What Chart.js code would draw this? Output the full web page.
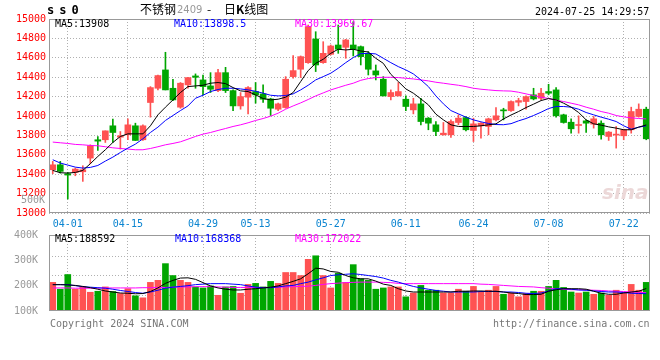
<!DOCTYPE html>
<html>
<head>
<meta charset="utf-8">
<script src="https://cdn.jsdelivr.net/npm/chart.js@4"></script>
<style>
  body { margin: 0; background: #fff; }
  #wrap { position: relative; width: 660px; height: 360px; overflow: hidden; }
  canvas { position: absolute; left: 0; }
  .t { position: absolute; white-space: nowrap; font-family: 'DejaVu Sans Mono', monospace; font-size: 10px; line-height: 12px; }
  .cjk { font-family: 'Noto Sans CJK SC', sans-serif; font-size: 12px; line-height: 16px; }
</style>
</head>
<body>
<div id="wrap">
  <canvas id="kline" width="660" height="232" style="top:0"></canvas>
  <canvas id="vol" width="660" height="114" style="top:226px"></canvas>

  <div class="t" style="left:47px;top:4px;font-size:12px;font-weight:bold;letter-spacing:5px">ss0</div>
  <div class="t cjk" style="left:140px;top:1px">不锈钢</div>
  <div class="t" style="left:177px;top:4px;color:#999;font-family:'DejaVu Sans',sans-serif">2409</div>
  <div class="t cjk" style="left:207px;top:1px">-</div>
  <div class="t cjk" style="left:224px;top:1px">日<b>K</b>线图</div>
  <div class="t" style="left:535px;top:6px">2024-07-25 14:29:57</div>

  <div class="t" style="left:55px;top:18px;color:#000">MA5:13908</div>
  <div class="t" style="left:174px;top:18px;color:#0000ff">MA10:13898.5</div>
  <div class="t" style="left:295px;top:18px;color:#ff00ff">MA30:13969.67</div>

  <div class="t" style="left:21px;top:194px;color:#999">500K</div>

  <div class="t" style="left:55px;top:233px;color:#000">MA5:188592</div>
  <div class="t" style="left:175px;top:233px;color:#0000ff">MA10:168368</div>
  <div class="t" style="left:295px;top:233px;color:#ff00ff">MA30:172022</div>

  <div class="t" style="left:50px;top:318px;color:#777">Copyright 2024 SINA.COM</div>
  <div class="t" style="left:493px;top:318px;color:#777">http://finance.sina.com.cn</div>
  <div class="t" style="left:602px;top:186px;font-family:'DejaVu Sans',sans-serif;font-size:20px;font-style:italic;font-weight:bold;color:#ecd8d8">sina</div>
</div>

<script>
// trading days shown on the chart
var dates = ["03-28","03-29","04-01","04-02","04-03","04-08","04-09","04-10","04-11","04-12",
  "04-15","04-16","04-17","04-18","04-19","04-22","04-23","04-24","04-25","04-26",
  "04-29","04-30","05-06","05-07","05-08","05-09","05-10","05-13","05-14","05-15",
  "05-16","05-17","05-20","05-21","05-22","05-23","05-24","05-27","05-28","05-29",
  "05-30","05-31","06-03","06-04","06-05","06-06","06-07","06-11","06-12","06-13",
  "06-14","06-17","06-18","06-19","06-20","06-21","06-24","06-25","06-26","06-27",
  "06-28","07-01","07-02","07-03","07-04","07-05","07-08","07-09","07-10","07-11",
  "07-12","07-15","07-16","07-17","07-18","07-19","07-22","07-23","07-24","07-25"];
var axisDates = ["04-01","04-15","04-29","05-13","05-27","06-11","06-24","07-08","07-22"];

var openP = [13446,13497,13405,13418,13425,13566,13755,13755,13899,13782,
  13806,13899,13755,14139,14286,14475,14286,14091,14321,14413,
  14372,14310,14262,14447,14262,14104,14194,14252,14228,14176,
  14070,14087,14406,14482,14550,14794,14550,14636,14732,14708,
  14732,14715,14646,14465,14379,14200,14207,14173,14063,14125,
  13978,13909,13806,13806,13933,13984,13851,13899,13892,13960,
  14063,14056,14142,14149,14218,14183,14252,14269,14012,13936,
  13902,13950,13916,13926,13789,13803,13796,13858,13995,14070];
var closeP = [13497,13429,13391,13453,13446,13693,13741,13847,13830,13796,
  13909,13748,13899,14293,14417,14269,14166,14338,14396,14399,
  14303,14276,14447,14262,14104,14200,14293,14218,14173,14080,
  14125,14379,14468,14612,14921,14526,14646,14722,14688,14784,
  14688,14612,14482,14423,14207,14242,14252,14098,14125,13943,
  13926,13840,13823,13943,13978,13858,13919,13926,13971,14002,
  14053,14149,14159,14200,14176,14235,14235,14002,13933,13868,
  13909,13926,13971,13806,13834,13813,13858,14046,14070,13765];
var highP = [13532,13532,13418,13463,13487,13703,13789,13847,13967,13840,
  13971,13926,13909,14303,14423,14657,14379,14345,14399,14434,
  14423,14447,14482,14502,14269,14242,14303,14345,14321,14183,
  14132,14406,14622,14619,14938,14869,14766,14732,14938,14790,
  14972,14722,14664,14526,14406,14269,14345,14207,14183,14183,
  13984,13943,13933,13960,14012,13995,13978,13933,13978,14087,
  14080,14156,14183,14207,14286,14286,14327,14293,14019,13971,
  14002,13960,13995,13950,13840,13892,13864,14091,14125,14091];
var lowP = [13405,13412,13144,13384,13326,13508,13645,13727,13727,13659,
  13755,13748,13748,13988,14269,14269,14159,14080,14286,14286,
  14218,14242,14252,14242,14056,14070,14022,14132,14139,14005,
  14056,14080,14389,14396,14543,14458,14543,14629,14646,14595,
  14619,14526,14423,14372,14207,14166,14207,14056,14022,13909,
  13858,13796,13803,13779,13909,13847,13737,13772,13806,13950,
  13960,14046,14104,14070,14166,14166,14218,13988,13926,13823,
  13823,13830,13875,13761,13748,13669,13755,13823,13988,13755];

var ma5 = [13439,13415,13412,13418,13439,13508,13583,13652,13727,13789,
  13816,13816,13816,13899,14012,14091,14166,14242,14303,14310,
  14317,14338,14345,14334,14293,14259,14252,14218,14180,14166,
  14173,14194,14242,14355,14468,14543,14585,14646,14688,14681,
  14688,14670,14660,14595,14543,14430,14355,14279,14235,14176,
  14115,14019,13960,13909,13892,13892,13892,13899,13909,13919,
  13970,14010,14046,14087,14122,14159,14180,14166,14132,14091,
  14036,13960,13919,13906,13888,13875,13858,13858,13885,13908];
var ma10 = [13549,13515,13494,13473,13463,13470,13490,13535,13576,13624,
  13669,13710,13765,13830,13885,13954,14005,14056,14104,14183,
  14214,14252,14273,14286,14286,14279,14269,14255,14235,14214,
  14207,14211,14228,14269,14317,14372,14406,14441,14492,14550,
  14602,14643,14646,14640,14595,14550,14509,14475,14434,14372,
  14303,14207,14125,14056,14022,13988,13960,13940,13923,13912,
  13910,13921,13950,13974,14005,14039,14077,14098,14098,14091,
  14070,14036,14012,13988,13967,13943,13899,13864,13885,13899];
var ma30 = [13731,13724,13717,13707,13703,13696,13693,13683,13672,13665,
  13659,13652,13652,13665,13683,13703,13717,13734,13761,13789,
  13813,13830,13851,13871,13892,13909,13930,13954,13974,13998,
  14029,14070,14104,14135,14170,14207,14238,14269,14293,14317,
  14338,14368,14386,14396,14399,14399,14396,14389,14382,14372,
  14362,14348,14338,14327,14317,14303,14286,14276,14269,14262,
  14259,14257,14245,14228,14211,14194,14180,14163,14149,14132,
  14115,14091,14070,14046,14029,14005,13991,13981,13974,13970];

var volume = [213000,186000,244000,186000,196000,174000,178000,195000,177000,169000,
  188000,160000,152000,213000,221000,287000,240000,221000,213000,195000,
  191000,199000,162000,195000,197000,170000,205000,209000,195000,217000,
  209000,252000,252000,240000,304000,318000,240000,191000,249000,213000,
  283000,227000,221000,186000,191000,195000,195000,156000,171000,201000,
  182000,182000,171000,171000,186000,178000,197000,175000,182000,197000,
  166000,171000,156000,169000,178000,178000,197000,221000,193000,175000,
  171000,175000,166000,171000,162000,182000,171000,205000,182000,213000];
var volMa5 = [204000,204000,203000,201000,197000,192000,186000,179000,175000,171000,
  170000,168000,169000,177000,191000,209000,221000,230000,231000,225000,
  212000,199000,191000,186000,183000,183000,186000,188000,191000,194000,
  199000,208000,217000,227000,247000,269000,266000,256000,253000,240000,
  231000,227000,227000,218000,206000,201000,188000,179000,175000,175000,
  175000,175000,175000,175000,178000,178000,179000,179000,178000,178000,
  175000,171000,169000,165000,165000,166000,178000,184000,188000,188000,
  188000,186000,178000,170000,166000,166000,171000,175000,178000,188592];
var volMa10 = [204000,204000,204000,200000,196000,194000,192000,190000,186000,181000,
  177000,173000,170000,175000,182000,190000,194000,197000,200000,204000,
  206000,208000,208000,208000,206000,204000,199000,194000,192000,192000,
  195000,199000,201000,208000,214000,223000,231000,240000,243000,245000,
  247000,244000,240000,236000,230000,221000,214000,205000,197000,191000,
  186000,181000,178000,175000,175000,175000,175000,177000,177000,177000,
  175000,175000,173000,170000,169000,171000,179000,188000,188000,186000,
  183000,182000,179000,177000,175000,175000,173000,170000,169000,168368];
var volMa30 = [191000,191000,191000,190000,190000,190000,190000,191000,191000,191000,
  191000,191000,192000,192000,193000,193000,194000,195000,195000,196000,
  196000,196000,195000,194000,193000,193000,193000,193000,193000,193000,
  194000,195000,196000,197000,198000,201000,205000,208000,210000,212000,
  213000,214000,214000,214000,213000,212000,209000,208000,208000,208000,
  208000,208000,208000,208000,208000,208000,208000,206000,205000,203000,
  201000,199000,197000,196000,195000,192000,190000,187000,186000,184000,
  184000,183000,182000,181000,179000,178000,177000,175000,174000,172022];

var RED = "#ff5252";
var GREEN = "#00a600";
var mono = "'DejaVu Sans Mono', monospace";
var candleColor = closeP.map(function (c, i) { return c >= openP[i] ? RED : GREEN; });

// dotted gridline rows in the volume panel, in px above the bottom frame
var volGridRows = [16, 36, 55];

var framePlugin = {
    id: "frame",
    afterDraw: function (chart) {
        var a = chart.chartArea, ctx = chart.ctx;
        ctx.save();
        ctx.strokeStyle = "#999";
        ctx.lineWidth = 1;
        ctx.strokeRect(Math.round(a.left) + 0.5, Math.round(a.top) + 0.5,
            Math.round(a.right - a.left) - 1, Math.round(a.bottom - a.top) - 1);
        ctx.restore();
    },
};

function dateTicks(scale) {
    scale.ticks = scale.ticks.filter(function (t) { return axisDates.indexOf(dates[t.value]) >= 0; });
}

function maLine(data, color) {
    return { type: "line", data: data, borderColor: color, borderWidth: 1, pointRadius: 0, tension: 0, order: 0 };
}

var klineChart = new Chart(document.getElementById("kline"), {
    type: "bar",
    data: {
        labels: dates,
        datasets: [
            maLine(ma5, "#000000"),
            maLine(ma10, "#0000ff"),
            maLine(ma30, "#ff00ff"),
            {
                data: openP.map(function (o, i) { return [o, closeP[i]]; }),
                backgroundColor: candleColor,
                barThickness: 6,
                minBarLength: 1,
                grouped: false,
                order: 1,
            },
            {
                data: lowP.map(function (l, i) { return [l, highP[i]]; }),
                backgroundColor: candleColor,
                barThickness: 1,
                grouped: false,
                order: 2,
            },
        ],
    },
    options: {
        responsive: false,
        animation: false,
        events: [],
        layout: { padding: { top: 19, right: 10, bottom: 0, left: 0 } },
        plugins: { legend: { display: false }, tooltip: { enabled: false } },
        scales: {
            x: {
                offset: true,
                grid: { offset: false, color: "#b0b0b0", drawTicks: false },
                border: { display: false, dash: [1, 2] },
                ticks: {
                    autoSkip: false,
                    maxRotation: 0,
                    color: "#0a84d0",
                    padding: 5,
                    font: { family: mono, size: 10 },
                },
                afterBuildTicks: dateTicks,
                afterFit: function (s) { s.height = 19; },
            },
            y: {
                min: 13000,
                max: 15000,
                ticks: {
                    stepSize: 200,
                    color: "#ff0000",
                    padding: 3,
                    font: { family: mono, size: 10 },
                    callback: function (v) { return String(v); },
                },
                grid: { color: "#b0b0b0", drawTicks: false },
                border: { display: false, dash: [1, 2] },
                afterFit: function (s) { s.width = 49; },
            },
        },
    },
    plugins: [framePlugin],
});

var volChart = new Chart(document.getElementById("vol"), {
    type: "bar",
    data: {
        labels: dates,
        datasets: [
            maLine(volMa5, "#000000"),
            maLine(volMa10, "#0000ff"),
            maLine(volMa30, "#ff00ff"),
            {
                data: volume,
                backgroundColor: candleColor,
                barThickness: 6,
                order: 1,
            },
        ],
    },
    options: {
        responsive: false,
        animation: false,
        events: [],
        layout: { padding: { top: 8, right: 10, bottom: 29, left: 0 } },
        plugins: { legend: { display: false }, tooltip: { enabled: false } },
        scales: {
            x: {
                offset: true,
                grid: { offset: false, color: "#b0b0b0", drawTicks: false },
                border: { display: false, dash: [1, 2] },
                ticks: { display: false, autoSkip: false },
                afterBuildTicks: dateTicks,
                afterFit: function (s) { s.height = 0; },
            },
            y: {
                min: 100000,
                max: 400000,
                ticks: {
                    stepSize: 100000,
                    color: "#999",
                    padding: 3,
                    font: { family: mono, size: 10 },
                    callback: function (v) { return v / 1000 + "K"; },
                },
                grid: { display: false },
                border: { display: false },
                afterFit: function (s) { s.width = 49; },
            },
            g: {
                position: "left",
                min: 0,
                max: 77,
                ticks: { display: false },
                grid: { color: "#b0b0b0", drawTicks: false },
                border: { display: false, dash: [1, 2] },
                afterBuildTicks: function (s) {
                    s.ticks = volGridRows.map(function (v) { return { value: v }; });
                },
                afterFit: function (s) { s.width = 0; },
            },
        },
    },
    plugins: [framePlugin],
});
</script>
</body>
</html>
